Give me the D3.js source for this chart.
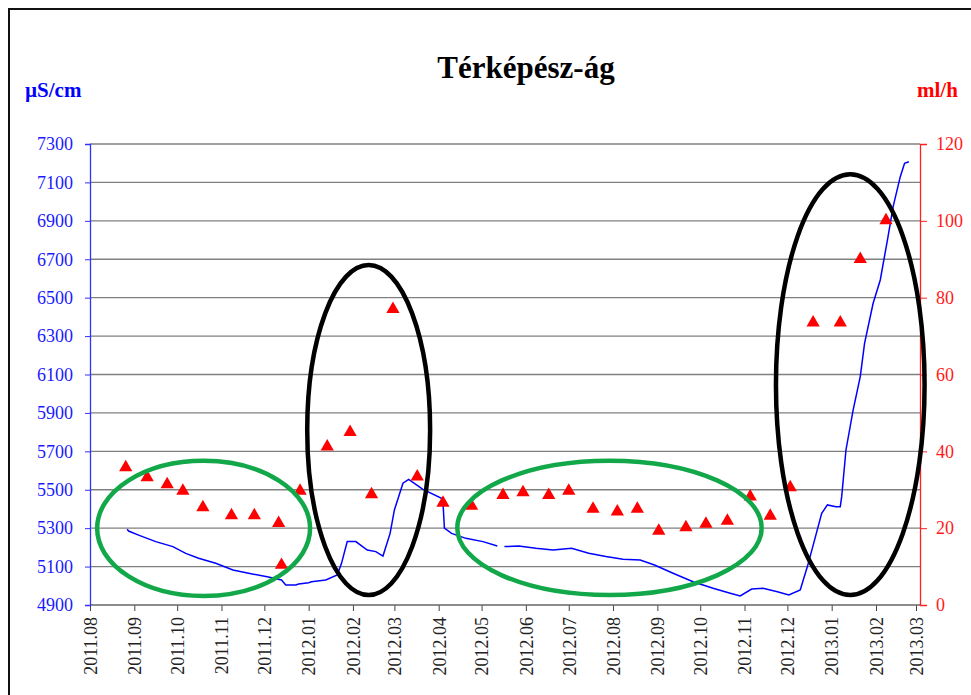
<!DOCTYPE html>
<html><head><meta charset="utf-8">
<script src="https://cdn.jsdelivr.net/npm/d3@7"></script>
<style>body{margin:0;background:#fff;} svg{display:block;}</style>
</head><body><svg id="c" width="971" height="695"></svg>
<script>
const chartTitle = "Térképész-ág";
const leftUnit = "µS/cm";
const rightUnit = "ml/h";
const monthTicks = ["2011.08","2011.09","2011.10","2011.11","2011.12","2012.01","2012.02","2012.03","2012.04","2012.05","2012.06","2012.07","2012.08","2012.09","2012.10","2012.11","2012.12","2013.01","2013.02","2013.03"];
const leftTicks = [4900,5100,5300,5500,5700,5900,6100,6300,6500,6700,6900,7100,7300];
const rightTicks = [0,20,40,60,80,100,120];

// conductivity (µS/cm), blue line; null = gap in record
const condDates = ["2011-08-27","2011-08-28","2011-09-04","2011-09-16","2011-09-28","2011-10-07","2011-10-16","2011-10-28","2011-11-09","2011-11-20","2011-12-03","2011-12-13","2011-12-16","2011-12-23","2011-12-25","2012-01-01","2012-01-03","2012-01-13","2012-01-21","2012-01-24","2012-01-28","2012-02-03","2012-02-11","2012-02-17","2012-02-22","2012-02-27","2012-03-01","2012-03-07","2012-03-11","2012-03-21","2012-04-03","2012-04-04","2012-04-05","2012-04-10","2012-04-20","2012-05-02","2012-05-12","2012-05-14","2012-05-17","2012-05-27","2012-06-08","2012-06-20","2012-07-03","2012-07-15","2012-07-27","2012-08-08","2012-08-20","2012-08-30","2012-09-12","2012-09-26","2012-10-10","2012-10-22","2012-10-29","2012-11-06","2012-11-14","2012-11-24","2012-12-02","2012-12-10","2012-12-15","2012-12-20","2012-12-25","2012-12-29","2013-01-04","2013-01-07","2013-01-08","2013-01-11","2013-01-16","2013-01-21","2013-01-24","2013-01-30","2013-02-04","2013-02-09","2013-02-13","2013-02-18","2013-02-21","2013-02-24"];
const condValues = [5294,5285,5264,5230,5204,5169,5143,5117,5082,5065,5047,5030,5004,5004,5009,5016,5021,5030,5056,5117,5230,5230,5186,5178,5155,5273,5395,5534,5554,5502,5456,5435,5300,5273,5247,5230,5207,null,5204,5207,5195,5186,5195,5169,5152,5138,5134,5108,5065,5021,4987,4961,4947,4983,4987,4969,4952,4978,5100,5238,5377,5421,5412,5412,5464,5707,5915,6089,6262,6471,6592,6800,6974,7130,7200,7208];

// flow (ml/h), red triangles
const flowDates = ["2011-08-26","2011-09-10","2011-09-24","2011-10-05","2011-10-19","2011-11-08","2011-11-24","2011-12-11","2011-12-13","2011-12-26","2012-01-14","2012-01-30","2012-02-14","2012-02-29","2012-03-17","2012-04-04","2012-04-24","2012-05-16","2012-05-30","2012-06-17","2012-07-01","2012-07-18","2012-08-04","2012-08-18","2012-09-02","2012-09-21","2012-10-05","2012-10-20","2012-11-05","2012-11-19","2012-12-03","2012-12-19","2013-01-07","2013-01-21","2013-02-08"];
const flowValues = [35.8,33.2,31.4,29.7,25.4,23.3,23.3,21.3,10.4,29.7,41.2,45.0,28.8,77.0,33.4,26.6,25.8,28.6,29.3,28.6,29.7,25.0,24.3,25.0,19.3,20.2,21.1,21.9,28.2,23.2,30.6,73.5,73.5,90.0,100.1];

// annotation ellipses: bounding dates and conductivity values
const ellipseStart = ["2011-08-06","2012-04-14","2011-12-31","2012-11-23"];
const ellipseEnd   = ["2012-01-02","2012-11-13","2012-03-26","2013-03-07"];
const ellipseLow   = [4947,4952,4952,4952];
const ellipseHigh  = [5651,5651,6670,7142];
const ellipseKind  = ["green","green","black","black"];

const svg = d3.select("#c");
const parse = d3.utcParse("%Y-%m-%d");
const parseMonth = d3.utcParse("%Y.%m");
const serif = "'Liberation Serif','Times New Roman',serif";

const L = 90, R = 920, T = 144, B = 605;
const x = d3.scaleUtc().domain([parseMonth(monthTicks[0]), parseMonth(monthTicks[monthTicks.length-1])]).range([90, 916]);
const yL = d3.scaleLinear().domain([4900, 7300]).range([B, T]);
const yR = d3.scaleLinear().domain([0, 120]).range([B, T]);

// outer border
svg.append("rect").attr("x", 9).attr("y", 9).attr("width", 1000).attr("height", 800)
  .attr("fill", "none").attr("stroke", "#111").attr("stroke-width", 2);

// gridlines
svg.append("g").selectAll("line").data(leftTicks.slice(1)).join("line")
  .attr("x1", L).attr("x2", R).attr("y1", d => yL(d)).attr("y2", d => yL(d))
  .attr("stroke", "#808080").attr("stroke-width", 1.4);

// x axis
const xAxis = d3.axisBottom(x).tickValues(monthTicks.map(parseMonth)).tickSize(6).tickFormat(d3.utcFormat("%Y.%m"));
const gx = svg.append("g").attr("transform", `translate(0,${B})`).call(xAxis);
gx.select(".domain").remove();
gx.selectAll(".tick line").attr("stroke", "#444");
gx.selectAll(".tick text").attr("transform", "rotate(-90)").attr("text-anchor", "end")
  .attr("x", -12).attr("y", 0).attr("dy", "0.35em")
  .attr("font-family", serif).attr("font-size", 18).attr("fill", "#222");
svg.append("line").attr("x1", L).attr("x2", R).attr("y1", B).attr("y2", B).attr("stroke", "#666").attr("stroke-width", 1.4);

// left axis
const gl = svg.append("g").attr("transform", `translate(${L},0)`)
  .call(d3.axisLeft(yL).tickValues(leftTicks).tickSize(5).tickPadding(12).tickFormat(d3.format("d")));
gl.select(".domain").attr("stroke", "#3030ff").attr("stroke-width", 1.3);
gl.selectAll(".tick line").attr("stroke", "#3030ff");
gl.selectAll(".tick text").attr("font-family", serif).attr("font-size", 18).attr("fill", "#1a1aff");

// right axis
const gr = svg.append("g").attr("transform", `translate(${R},0)`)
  .call(d3.axisRight(yR).tickValues(rightTicks).tickSize(7).tickPadding(9).tickFormat(d3.format("d")));
gr.select(".domain").attr("stroke", "#ff2020").attr("stroke-width", 1.3);
gr.selectAll(".tick line").attr("stroke", "#ff2020");
gr.selectAll(".tick text").attr("font-family", serif).attr("font-size", 18).attr("fill", "#ff1a1a");

// conductivity line
const condData = condDates.map((d, i) => ({date: parse(d), v: condValues[i]}));
svg.append("path").datum(condData)
  .attr("d", d3.line().defined(d => d.v !== null).x(d => x(d.date)).y(d => yL(d.v)))
  .attr("fill", "none").attr("stroke", "#0000ff").attr("stroke-width", 1.5);

// flow triangles
const flowData = flowDates.map((d, i) => ({date: parse(d), v: flowValues[i]}));
svg.append("g").selectAll("path").data(flowData).join("path")
  .attr("d", d3.symbol(d3.symbolTriangle).size(76))
  .attr("transform", d => `translate(${x(d.date)},${yR(d.v)})`)
  .attr("fill", "#ff0000");

// annotation ellipses
const kindColor = {green: "#12a84a", black: "#000000"};
svg.append("g").selectAll("ellipse").data(ellipseStart.map((s, i) => i)).join("ellipse")
  .attr("cx", i => (x(parse(ellipseStart[i])) + x(parse(ellipseEnd[i]))) / 2)
  .attr("cy", i => (yL(ellipseLow[i]) + yL(ellipseHigh[i])) / 2)
  .attr("rx", i => (x(parse(ellipseEnd[i])) - x(parse(ellipseStart[i]))) / 2)
  .attr("ry", i => (yL(ellipseLow[i]) - yL(ellipseHigh[i])) / 2)
  .attr("fill", "none").attr("stroke", i => kindColor[ellipseKind[i]]).attr("stroke-width", 4.5);

// titles
svg.append("text").attr("x", 526).attr("y", 78).attr("text-anchor", "middle")
  .attr("font-family", serif).attr("font-weight", "bold").attr("font-size", 31).attr("fill", "#000").text(chartTitle);
svg.append("text").attr("x", 25).attr("y", 97)
  .attr("font-family", serif).attr("font-weight", "bold").attr("font-size", 21).attr("fill", "#0000ff").text(leftUnit);
svg.append("text").attr("x", 917).attr("y", 97)
  .attr("font-family", serif).attr("font-weight", "bold").attr("font-size", 21).attr("fill", "#ff0000").text(rightUnit);
</script></body></html>
